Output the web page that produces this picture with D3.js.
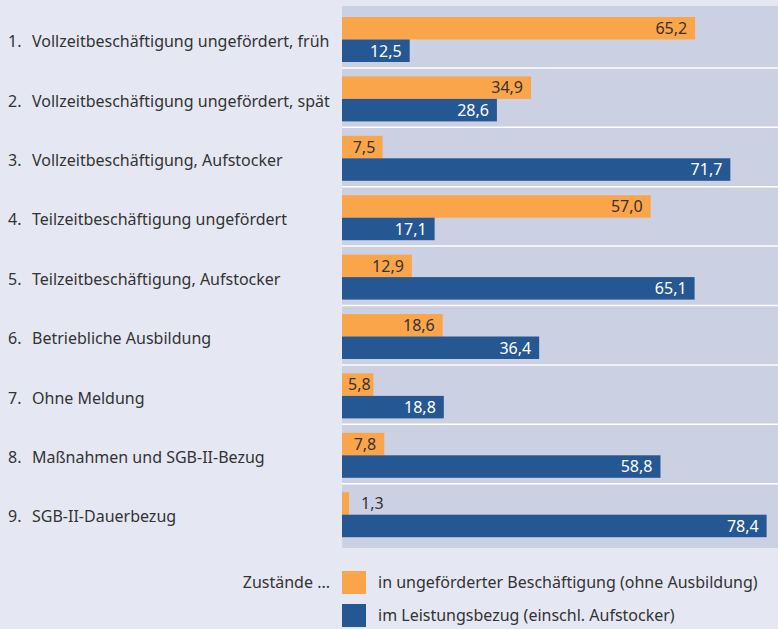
<!DOCTYPE html>
<html>
<head>
<meta charset="utf-8">
<script src="https://cdn.jsdelivr.net/npm/d3@7"></script>
<style>
  body { margin: 0; background: #e5e8f3; }
  svg { display: block; font-family: "Noto Sans", "Liberation Sans", sans-serif; }
</style>
</head>
<body>
<svg id="chart"></svg>
<script>
// categories and series values
const categories = [
  "1.  Vollzeitbeschäftigung ungefördert, früh",
  "2.  Vollzeitbeschäftigung ungefördert, spät",
  "3.  Vollzeitbeschäftigung, Aufstocker",
  "4.  Teilzeitbeschäftigung ungefördert",
  "5.  Teilzeitbeschäftigung, Aufstocker",
  "6.  Betriebliche Ausbildung",
  "7.  Ohne Meldung",
  "8.  Maßnahmen und SGB-II-Bezug",
  "9.  SGB-II-Dauerbezug"
];
const beschaeftigung = [65.2, 34.9, 7.5, 57.0, 12.9, 18.6, 5.8, 7.8, 1.3];
const leistungsbezug = [12.5, 28.6, 71.7, 17.1, 65.1, 36.4, 18.8, 58.8, 78.4];
const seriesNames = [
  "in ungeförderter Beschäftigung (ohne Ausbildung)",
  "im Leistungsbezug (einschl. Aufstocker)"
];
const legendTitle = "Zustände ...";

const W = 778, H = 629;
const orange = "#fba54b", blue = "#255892";
const fmt = v => v.toFixed(1).replace(".", ",");

const svg = d3.select("#chart").attr("width", W).attr("height", H);

// plot panel
const panel = {left: 342, right: 778, top: 6, bottom: 548};
svg.append("rect")
  .attr("x", panel.left).attr("y", panel.top)
  .attr("width", panel.right - panel.left)
  .attr("height", panel.bottom - panel.top)
  .attr("fill", "#cbd0e3");

const x = d3.scaleLinear().domain([0, 80.5]).range([panel.left, panel.right]);
const y = d3.scaleBand().domain(d3.range(categories.length))
  .range([8.5, 8.5 + 9 * 59.4]);

const barH = 22.5;
const offs = [8.5, 31]; // orange row, blue row inside each band

// white separators between groups
svg.selectAll("line.sep")
  .data(d3.range(1, categories.length))
  .join("line")
  .attr("class", "sep")
  .attr("x1", panel.left).attr("x2", panel.right)
  .attr("y1", i => y(i)).attr("y2", i => y(i))
  .attr("stroke", "#fff").attr("stroke-width", 1.5);

const rows = [];
categories.forEach((c, i) => {
  rows.push({i, s: 0, v: beschaeftigung[i]});
  rows.push({i, s: 1, v: leistungsbezug[i]});
});

svg.selectAll("rect.bar")
  .data(rows)
  .join("rect")
  .attr("class", "bar")
  .attr("x", x(0))
  .attr("y", d => y(d.i) + offs[d.s])
  .attr("width", d => x(d.v) - x(0))
  .attr("height", barH)
  .attr("fill", d => d.s === 0 ? orange : blue);

// value labels
svg.selectAll("text.val")
  .data(rows)
  .join("text")
  .attr("class", "val")
  .attr("font-size", 16)
  .attr("y", d => y(d.i) + offs[d.s] + barH / 2)
  .attr("dy", "0.36em")
  .each(function(d) {
    const w = x(d.v) - x(0);
    const t = d3.select(this).text(fmt(d.v));
    if (w < 20) {
      t.attr("x", x(d.v) + 12).attr("text-anchor", "start").attr("fill", "#333");
    } else {
      const pad = Math.min(8, Math.max(2, (w - 28) / 2 + 1));
      t.attr("x", x(d.v) - pad).attr("text-anchor", "end")
        .attr("fill", d.s === 0 ? "#333" : "#fff");
    }
  });

// category labels
const lab = svg.selectAll("g.cat")
  .data(categories)
  .join("g")
  .attr("class", "cat")
  .attr("transform", (c, i) => `translate(8,${y(i) + 33})`);
lab.append("text")
  .attr("font-size", 16).attr("fill", "#333").attr("dy", "0.36em")
  .text(c => c.split(/\s{2}/)[0]);
lab.append("text")
  .attr("x", 24)
  .attr("font-size", 16).attr("fill", "#333").attr("dy", "0.36em")
  .text(c => c.split(/\s{2}/)[1]);

// legend
const legend = svg.append("g");
legend.append("text")
  .attr("x", 330).attr("y", 582).attr("dy", "0.36em")
  .attr("text-anchor", "end").attr("font-size", 16).attr("fill", "#333")
  .text(legendTitle);
const li = legend.selectAll("g.li")
  .data(seriesNames)
  .join("g")
  .attr("class", "li")
  .attr("transform", (d, i) => `translate(342,${571 + i * 33})`);
li.append("rect")
  .attr("width", 24).attr("height", 23)
  .attr("fill", (d, i) => i === 0 ? orange : blue);
li.append("text")
  .attr("x", 36).attr("y", 11.5).attr("dy", "0.36em")
  .attr("font-size", 16).attr("fill", "#333")
  .text(d => d);
</script>
</body>
</html>
